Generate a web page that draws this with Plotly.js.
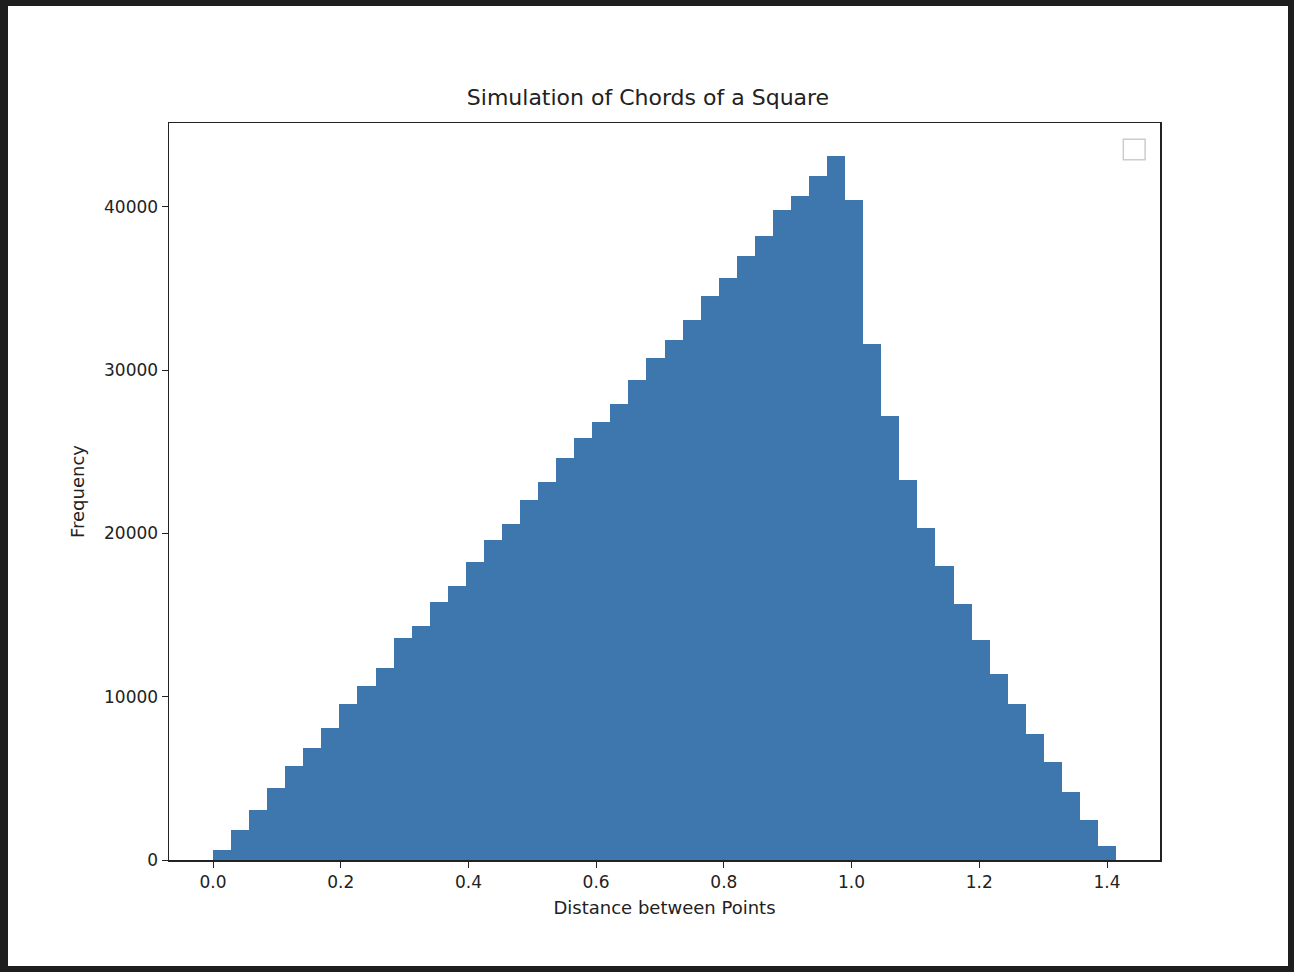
<!DOCTYPE html>
<html>
<head>
<meta charset="utf-8">
<script src="https://cdn.plot.ly/plotly-3.0.1.min.js"></script>
<style>
  body { margin: 0; background: #1e1e1e; width: 1294px; height: 972px; overflow: hidden; }
  #plot { position: absolute; left: 8px; top: 6px; width: 1280px; height: 960px; background: #fff; }
</style>
</head>
<body>
<div id="plot"></div>
<script>
// histogram: 50 bins from 0 to sqrt(2)
const binStart = 0;
const binEnd = Math.SQRT2;
const counts = [
  600, 1850, 3050, 4400, 5750, 6850, 8100, 9550, 10650, 11750,
  13600, 14350, 15800, 16800, 18250, 19600, 20600, 22050, 23150, 24600,
  25850, 26850, 27950, 29400, 30750, 31850, 33100, 34550, 35650, 37000,
  38200, 39800, 40650, 41900, 43100, 40400, 31600, 27200, 23300, 20350,
  18000, 15700, 13450, 11400, 9550, 7700, 6000, 4150, 2450, 850
];
const xTicks = [0.0, 0.2, 0.4, 0.6, 0.8, 1.0, 1.2, 1.4];
const yTicks = [0, 10000, 20000, 30000, 40000];

const binWidth = (binEnd - binStart) / counts.length;
const centers = counts.map((_, i) => binStart + (i + 0.5) * binWidth);

const data = [{
  type: 'bar',
  x: centers,
  y: counts,
  width: binWidth,
  marker: { color: '#3e76ae', line: { width: 0 } },
  hoverinfo: 'x+y'
}];

const font = { family: 'DejaVu Sans, sans-serif', size: 17, color: '#222' };

const layout = {
  width: 1280,
  height: 960,
  margin: { l: 161, r: 128, t: 117, b: 106 },
  paper_bgcolor: '#fff',
  plot_bgcolor: '#fff',
  font: font,
  showlegend: false,
  bargap: 0,
  title: { text: 'Simulation of Chords of a Square', font: { family: font.family, size: 22, color: '#222' }, x: 0.5, xanchor: 'center', y: 0.905, yanchor: 'middle' },
  xaxis: {
    range: [-0.0689, 1.483],
    tickvals: xTicks,
    ticktext: xTicks.map(v => v.toFixed(1)),
    ticks: 'outside', ticklen: 6, tickcolor: '#222',
    showgrid: false, zeroline: false,
    showline: true, linecolor: '#222', linewidth: 1.5, mirror: true,
    title: { text: 'Distance between Points', font: { size: 18 }, standoff: 10 }
  },
  yaxis: {
    range: [0, 45145],
    tickvals: yTicks,
    ticktext: yTicks.map(String),
    ticks: 'outside', ticklen: 6, tickcolor: '#222',
    showgrid: false, zeroline: false,
    showline: true, linecolor: '#222', linewidth: 1.5, mirror: true,
    title: { text: 'Frequency', font: { size: 18 }, standoff: 14 }
  },
  shapes: [{
    // empty legend box
    type: 'rect', xref: 'paper', yref: 'paper',
    x0: 0.963, x1: 0.985, y0: 0.95, y1: 0.978,
    line: { color: '#ccc', width: 1.5 }, fillcolor: '#fff'
  }]
};

Plotly.newPlot('plot', data, layout, { displayModeBar: false, staticPlot: true });
</script>
</body>
</html>
